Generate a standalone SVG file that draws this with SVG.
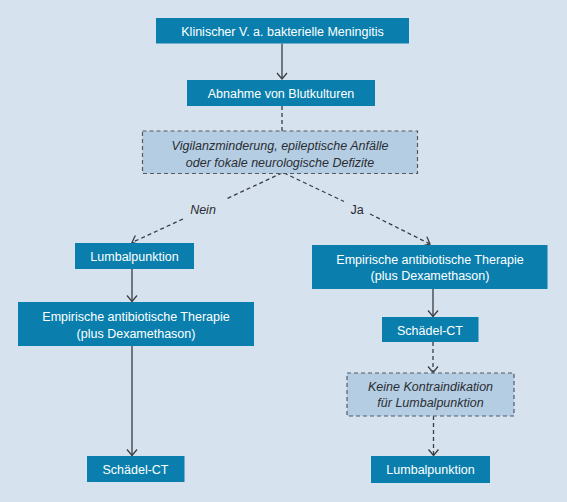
<svg xmlns="http://www.w3.org/2000/svg" width="567" height="502" viewBox="0 0 567 502">
<defs>
<style>
.bg{fill:#d6e2ee}
.box{fill:#0a7fae}
.dbox{fill:#b5cde2;stroke:#555a60;stroke-width:1.2;stroke-dasharray:4 3}
.t{font-family:"Liberation Sans","DejaVu Sans",sans-serif;font-size:12.5px;fill:#ffffff;text-anchor:middle}
.ti{font-family:"Liberation Sans","DejaVu Sans",sans-serif;font-size:12.5px;fill:#2a2d33;text-anchor:middle;font-style:italic}
.lab{font-family:"Liberation Sans","DejaVu Sans",sans-serif;font-size:12.5px;fill:#2a2d33;text-anchor:middle}
.c{fill:none;stroke:#3a3d42;stroke-width:1.3}
.d{fill:none;stroke:#3a3d42;stroke-width:1.3;stroke-dasharray:4 3}
</style>
<marker id="ah" markerWidth="12" markerHeight="12" refX="10" refY="6" orient="auto" markerUnits="userSpaceOnUse">
<path d="M4,1 L10,6 L4,11" fill="none" stroke="#3a3d42" stroke-width="1.3"/>
</marker>
</defs>
<rect class="bg" x="0" y="0" width="567" height="502"/>
<g id="connectors">
<line class="c" x1="282" y1="43.5" x2="282" y2="79" marker-end="url(#ah)"/>
<line class="d" x1="282" y1="106" x2="282" y2="131"/>
<path class="d" d="M282,173 L225,199.5 M183,219 L132,242.5" marker-end="url(#ah)"/>
<path class="d" d="M284,173 L344,201.5 M370,214 L430,244" marker-end="url(#ah)"/>
<line class="c" x1="132" y1="269" x2="132" y2="301.5" marker-end="url(#ah)"/>
<line class="c" x1="433" y1="289" x2="433" y2="316.5" marker-end="url(#ah)"/>
<line class="c" x1="132" y1="346" x2="132" y2="455.5" marker-end="url(#ah)"/>
<line class="d" x1="433" y1="342" x2="433" y2="372.5" marker-end="url(#ah)"/>
<line class="d" x1="433.5" y1="416" x2="433.5" y2="455.5" marker-end="url(#ah)"/>
</g>
<g id="n1"><rect class="box" x="156" y="18" width="253" height="25.5"/><text class="t" x="282.5" y="35.5">Klinischer V. a. bakterielle Meningitis</text></g>
<g id="n2"><rect class="box" x="187" y="80" width="188" height="26"/><text class="t" x="281" y="97.5">Abnahme von Blutkulturen</text></g>
<g id="n3"><rect class="dbox" x="142.5" y="131" width="275" height="42.5"/><text class="ti" x="280" y="149.5">Vigilanzminderung, epileptische Anfälle</text><text class="ti" x="280" y="166.5">oder fokale neurologische Defizite</text></g>
<g id="lblNein"><text class="ti" x="203" y="213.5">Nein</text></g>
<g id="lblJa"><text class="lab" x="357" y="213.5">Ja</text></g>
<g id="n4"><rect class="box" x="75" y="243" width="119" height="26"/><text class="t" x="134.5" y="260.5">Lumbalpunktion</text></g>
<g id="n5"><rect class="box" x="312" y="245" width="235.5" height="44"/><text class="t" x="430" y="263.5">Empirische antibiotische Therapie</text><text class="t" x="430" y="279.5">(plus Dexamethason)</text></g>
<g id="n6"><rect class="box" x="18" y="302" width="236" height="44"/><text class="t" x="136" y="321">Empirische antibiotische Therapie</text><text class="t" x="136" y="337.5">(plus Dexamethason)</text></g>
<g id="n7"><rect class="box" x="382" y="317" width="96.5" height="25"/><text class="t" x="430" y="334.5">Schädel-CT</text></g>
<g id="n8"><rect class="dbox" x="347" y="373" width="167" height="43"/><text class="ti" x="430.5" y="391">Keine Kontraindikation</text><text class="ti" x="430.5" y="407">für Lumbalpunktion</text></g>
<g id="n9"><rect class="box" x="87" y="456" width="97.5" height="26"/><text class="t" x="135.5" y="473.5">Schädel-CT</text></g>
<g id="n10"><rect class="box" x="371" y="456" width="119" height="27"/><text class="t" x="430.5" y="474">Lumbalpunktion</text></g>
</svg>
